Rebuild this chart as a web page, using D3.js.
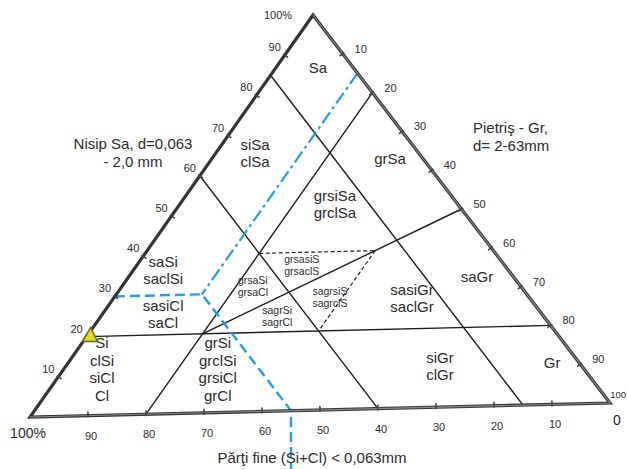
<!DOCTYPE html>
<html><head><meta charset="utf-8">
<script src="https://cdn.jsdelivr.net/npm/d3@7"></script>
<style>
html,body{margin:0;padding:0;background:#fff;overflow:hidden}
text{font-family:"Liberation Sans",Arial,sans-serif;fill:#2a2a2a}
</style></head>
<body>
<svg id="c" width="627" height="469"></svg>
<script>
// ---- data (percentages: [sand, gravel]; fines = 100 - sand - gravel) ----
const tickValues = [10, 20, 30, 40, 50, 60, 70, 80, 90];
const sandTickLabels = ["10","20","30","40","50","60","70","80","90"];
const gravelTickLabels = ["10","20","30","40","50","60","70","80","90"];
const finesTickLabels = ["10","20","30","40","50","60","70","80","90"];
const solidLines = [
  [[20, 0], [20, 80]],
  [[0, 20], [80, 20]],
  [[85, 0], [0, 85]],
  [[60, 0], [0, 60]],
  [[20, 20], [50, 50]]
];
const dashedLines = [
  [[40, 20], [40, 40]],
  [[40, 40], [20, 40]]
];
const blueDashDot = [[85, 15], [30, 15]];
const blueDashed = [[30, 0], [30, 15], [0, 45]];
const samplePoints = [[20, 0.5]];
const regionNames = [
  ["Sa"], ["siSa","clSa"], ["grSa"], ["grsiSa","grclSa"], ["saSi","saclSi"],
  ["sasiCl","saCl"], ["Si","clSi","siCl","Cl"], ["grSi","grclSi","grsiCl","grCl"],
  ["grsaSi","grsaCl"], ["grsasiS","grsaclS"], ["sagrSi","sagrCl"], ["sagrsiS","sagrclS"],
  ["sasiGr","saclGr"], ["saGr"], ["siGr","clGr"], ["Gr"]
];
const regionSand = [86.8, 65.4, 63.3, 52.0, 36.4, 25.3, 11.7, 11.0, 31.8, 36.8, 24.0, 28.5, 27.8, 32.7, 10.4, 10.5];
const regionGravel = [7.3, 6.9, 31.2, 27.2, 5.2, 10.6, 6.7, 27.0, 22.9, 28.9, 30.9, 37.8, 52.3, 61.1, 65.6, 84.9];
const regionSmall = [false,false,false,false,false,false,false,false,true,true,true,true,false,false,false,false];
const sandTitle = ["Nisip Sa, d=0,063", "- 2,0 mm"];
const gravelTitle = ["Pietriş - Gr,", "d= 2-63mm"];
const finesTitle = "Părţi fine (Si+Cl) < 0,063mm";

// ---- layout ----
const W = 627, H = 469;
const TOP = [313, 15], BL = [30, 417], BR = [610, 403];
const sxS = d3.scaleLinear().domain([0, 100]).range([0, TOP[0] - BL[0]]);
const syS = d3.scaleLinear().domain([0, 100]).range([0, TOP[1] - BL[1]]);
const sxG = d3.scaleLinear().domain([0, 100]).range([0, BR[0] - BL[0]]);
const syG = d3.scaleLinear().domain([0, 100]).range([0, BR[1] - BL[1]]);
const P = (s, g) => [BL[0] + sxS(s) + sxG(g), BL[1] + syS(s) + syG(g)];

const svg = d3.select("#c");
const line = d3.line();
const BLUE = "#1f9fe4";

// boundary lines
const g1 = svg.append("g");
solidLines.forEach(l => g1.append("path").attr("d", line(l.map(p => P(p[0], p[1]))))
  .attr("stroke", "#1c1c1c").attr("stroke-width", 1.4).attr("fill", "none"));
dashedLines.forEach(l => g1.append("path").attr("d", line(l.map(p => P(p[0], p[1]))))
  .attr("stroke", "#1c1c1c").attr("stroke-width", 1.2).attr("fill", "none").attr("stroke-dasharray", "4,2.5"));

// blue lines
svg.append("path").attr("d", line(blueDashDot.map(p => P(p[0], p[1]))))
  .attr("stroke", BLUE).attr("stroke-width", 2.2).attr("fill", "none").attr("stroke-dasharray", "13,4,3,4");
const bd = blueDashed.map(p => P(p[0], p[1]));
const last = bd[bd.length - 1];
bd.push([last[0], H + 5]);
svg.append("path").attr("d", line(bd))
  .attr("stroke", BLUE).attr("stroke-width", 2.4).attr("fill", "none").attr("stroke-dasharray", "10,5");

// triangle frame
const frame = [TOP, BR, BL, TOP];
svg.append("path").attr("d", line(frame) + "Z").attr("fill", "none")
  .attr("stroke", "#333").attr("stroke-width", 3.2).attr("stroke-linejoin", "miter");
svg.append("path").attr("d", line([BL, BR, TOP])).attr("fill", "none")
  .attr("stroke", "#8c8c8c").attr("stroke-width", 1.1);

// ticks
function tickMark(p, dir) {
  const len = 4;
  svg.append("line").attr("x1", p[0] - dir[0] * 2).attr("y1", p[1] - dir[1] * 2)
    .attr("x2", p[0] + dir[0] * len).attr("y2", p[1] + dir[1] * len)
    .attr("stroke", "#444").attr("stroke-width", 1.6);
}
function perp(a, b, inside) {
  let dx = b[0] - a[0], dy = b[1] - a[1];
  const L = Math.hypot(dx, dy);
  let n = [-dy / L, dx / L];
  const c = [(TOP[0] + BL[0] + BR[0]) / 3, (TOP[1] + BL[1] + BR[1]) / 3];
  const m = [(a[0] + b[0]) / 2, (a[1] + b[1]) / 2];
  if ((c[0] - m[0]) * n[0] + (c[1] - m[1]) * n[1] < 0) n = [-n[0], -n[1]];
  return inside ? n : [-n[0], -n[1]];
}
const nLeft = perp(BL, TOP, true), nRight = perp(TOP, BR, true), nBot = perp(BL, BR, true);
const tickText = svg.append("g").attr("font-size", 11);
tickValues.forEach((v, i) => {
  const pl = P(v, 0);
  tickMark(pl, nLeft);
  tickText.append("text").attr("x", pl[0] - 10).attr("y", pl[1] - 8)
    .attr("text-anchor", "middle").attr("dominant-baseline", "central").text(sandTickLabels[i]);
  const pr = P(100 - v, v);
  tickMark(pr, nRight);
  tickText.append("text").attr("x", pr[0] + 18).attr("y", pr[1] - 5)
    .attr("text-anchor", "middle").attr("dominant-baseline", "central").text(gravelTickLabels[i]);
  const pb = P(0, 100 - v);
  tickMark(pb, nBot);
  tickText.append("text").attr("x", pb[0] + 3).attr("y", pb[1] + 20)
    .attr("text-anchor", "middle").attr("dominant-baseline", "central").text(finesTickLabels[i]);
});
const pTop = P(100, 0), pBR = P(0, 100), pBL = P(0, 0);
tickText.append("text").attr("x", pTop[0] - 35).attr("y", pTop[1]).attr("text-anchor", "middle")
  .attr("dominant-baseline", "central").attr("font-size", 11).text("100%");
svg.append("text").attr("x", pBL[0] - 2).attr("y", pBL[1] + 16).attr("text-anchor", "middle")
  .attr("dominant-baseline", "central").attr("font-size", 14).text("100%");
svg.append("text").attr("x", pBR[0] + 7).attr("y", pBR[1] + 17).attr("text-anchor", "middle")
  .attr("dominant-baseline", "central").attr("font-size", 14).text("0");
svg.append("text").attr("x", W - 1).attr("y", pBR[1] - 9).attr("text-anchor", "end")
  .attr("dominant-baseline", "central").attr("font-size", 9.5).text("100");

// region labels
regionNames.forEach((lines, i) => {
  const c = P(regionSand[i], regionGravel[i]);
  const fs = regionSmall[i] ? 10.5 : 15;
  const lh = regionSmall[i] ? 11.5 : 17.5;
  const t = svg.append("text").attr("text-anchor", "middle").attr("font-size", fs);
  lines.forEach((s, j) => {
    t.append("tspan").attr("x", c[0]).attr("y", c[1] + (j - (lines.length - 1) / 2) * lh)
      .attr("dominant-baseline", "central").text(s);
  });
});

// sample marker
samplePoints.forEach(p => {
  const c = P(p[0], p[1]);
  svg.append("path").attr("transform", `translate(${c[0]},${c[1] - 1})`)
    .attr("d", "M1,-8 L8,6 L-7,6 Z").attr("fill", "#e6dc1e")
    .attr("stroke", "#6b6a2a").attr("stroke-width", 1.5);
});

// axis titles
const st = svg.append("text").attr("text-anchor", "middle").attr("font-size", 15);
sandTitle.forEach((s, j) => st.append("tspan").attr("x", 133).attr("y", 143 + j * 18)
  .attr("dominant-baseline", "central").text(s));
const gt = svg.append("text").attr("text-anchor", "start").attr("font-size", 15);
gravelTitle.forEach((s, j) => gt.append("tspan").attr("x", 473).attr("y", 127 + j * 18)
  .attr("dominant-baseline", "central").text(s));
svg.append("text").attr("x", 312).attr("y", 457).attr("text-anchor", "middle")
  .attr("dominant-baseline", "central").attr("font-size", 15).text(finesTitle);
</script>
</body></html>
